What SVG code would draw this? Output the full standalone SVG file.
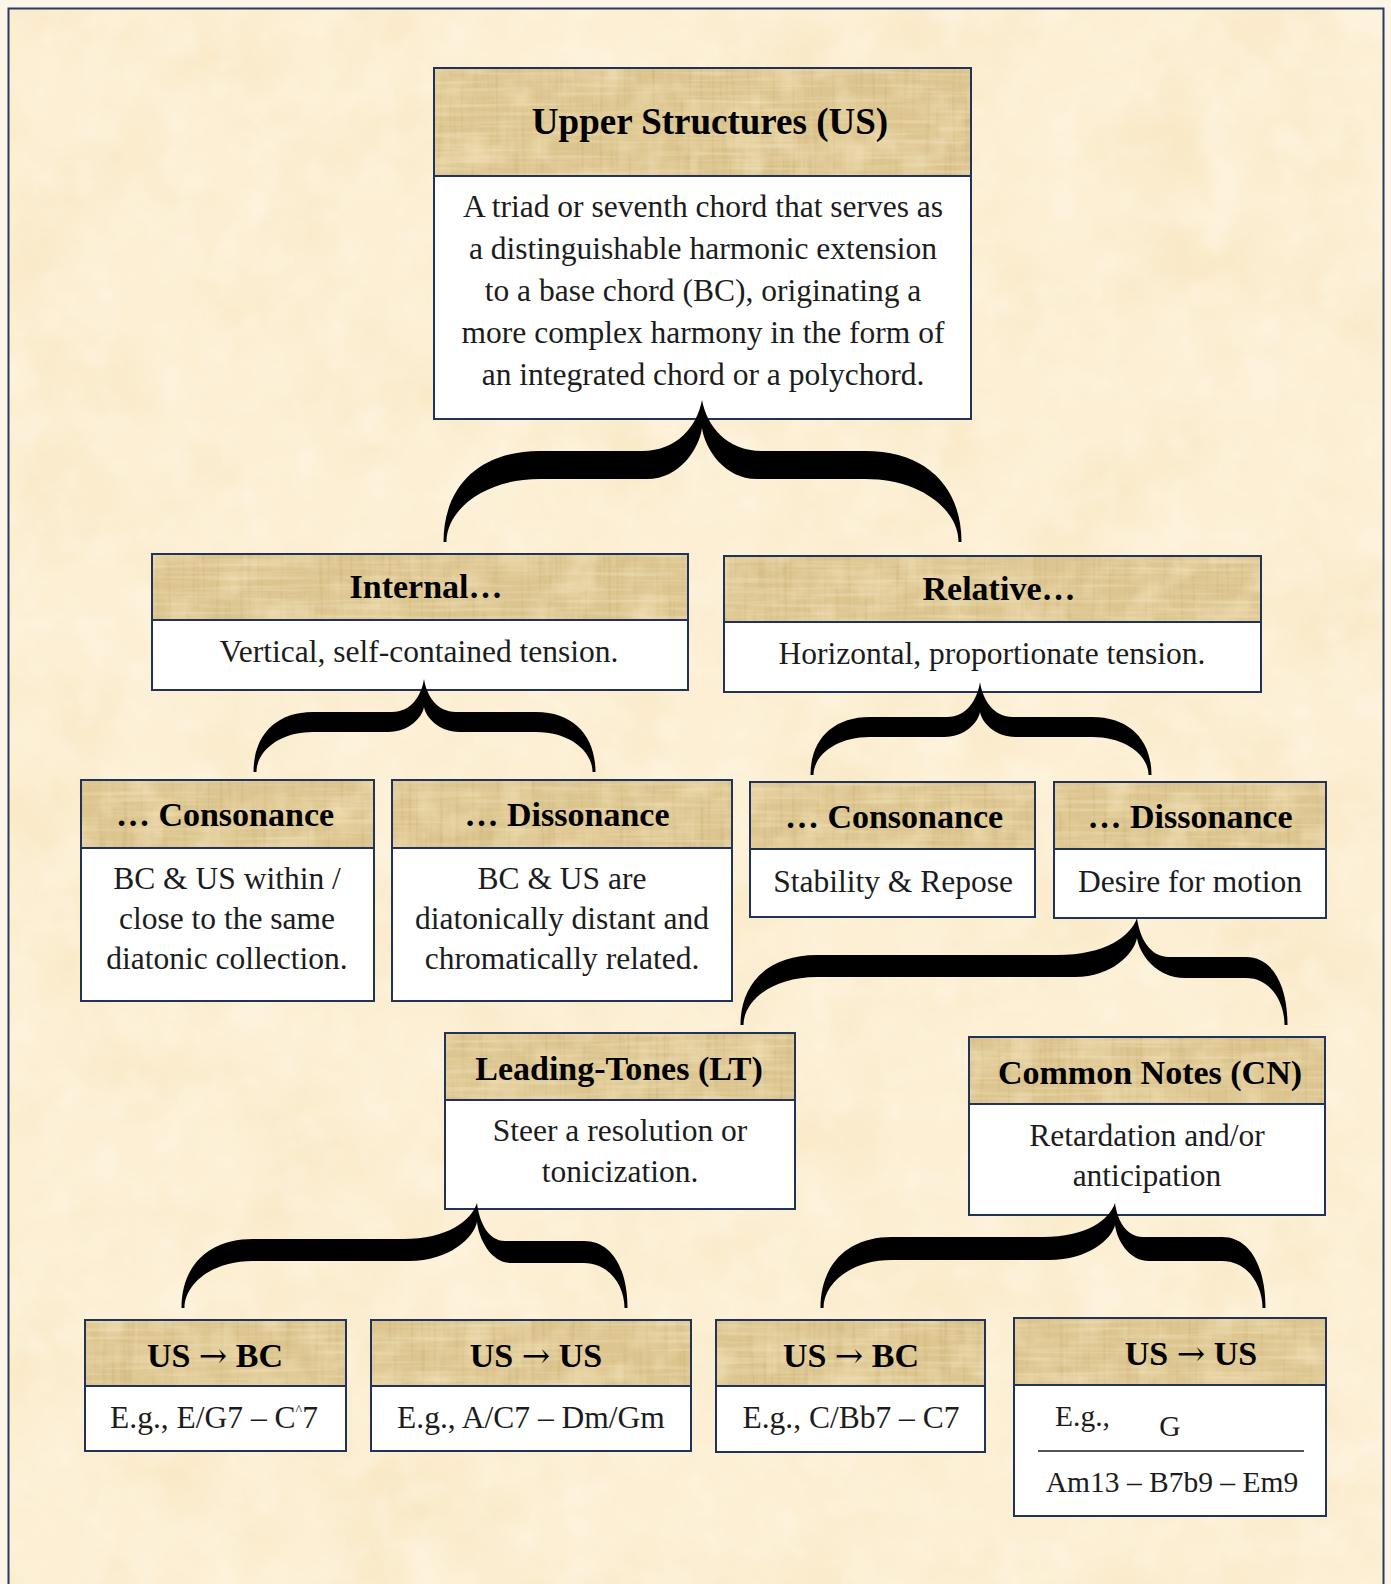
<svg xmlns="http://www.w3.org/2000/svg" width="1391" height="1584" viewBox="0 0 1391 1584">
  <defs>
    <style>
      .paper { fill: #fcefd4; filter: url(#parchment); }
      .outer { fill: none; stroke: #2a3a60; stroke-width: 2; }
      .body { fill: #ffffff; }
      .head { fill: #dcc58f; filter: url(#papyrus); }
      .frame { fill: none; stroke: #22335a; stroke-width: 2; }
      .rule { stroke: #22335a; stroke-width: 2; }
      .title { font-family: "Liberation Serif", "DejaVu Serif", serif; font-weight: bold; font-size: 34px; text-anchor: middle; fill: #000; }
      .big { font-size: 37px; }
      .arrow { font-family: "DejaVu Serif", serif; font-weight: normal; }
      .txt { font-family: "Liberation Serif", "DejaVu Serif", serif; font-size: 31.5px; text-anchor: middle; fill: #1c1c1c; }
      .small { font-size: 29.5px; }
      .left { text-anchor: start; }
      .brace { fill: #000; }
    </style>
    <!-- mottled parchment background -->
    <filter id="parchment" x="0" y="0" width="100%" height="100%" color-interpolation-filters="sRGB">
      <feFlood flood-color="#fcefd4" result="base"/>
      <feTurbulence type="fractalNoise" baseFrequency="0.009" numOctaves="4" seed="7" result="noise"/>
      <feColorMatrix in="noise" type="matrix" values="0 0 0 0 0.94  0 0 0 0 0.83  0 0 0 0 0.6  0.55 0 0 0 -0.24" result="spots"/>
      <feTurbulence type="fractalNoise" baseFrequency="0.025" numOctaves="3" seed="19" result="noise2"/>
      <feColorMatrix in="noise2" type="matrix" values="0 0 0 0 1  0 0 0 0 0.98  0 0 0 0 0.93  0.9 0 0 0 -0.4" result="glow"/>
      <feMerge><feMergeNode in="base"/><feMergeNode in="spots"/><feMergeNode in="glow"/></feMerge>
      <feComposite in2="SourceAlpha" operator="in"/>
    </filter>
    <!-- woven papyrus texture for the header bands -->
    <filter id="papyrus" x="0" y="0" width="100%" height="100%" color-interpolation-filters="sRGB">
      <feFlood flood-color="#dcc58f" result="base"/>
      <feTurbulence type="fractalNoise" baseFrequency="0.03" numOctaves="3" seed="4" result="blot"/>
      <feColorMatrix in="blot" type="matrix" values="0 0 0 0 0.97  0 0 0 0 0.91  0 0 0 0 0.76  1.2 0 0 0 -0.5" result="pale"/>
      <feTurbulence type="fractalNoise" baseFrequency="0.01 0.25" numOctaves="2" seed="11" result="hf"/>
      <feColorMatrix in="hf" type="matrix" values="0 0 0 0 0.98  0 0 0 0 0.93  0 0 0 0 0.8  0.9 0 0 0 -0.4" result="light"/>
      <feTurbulence type="fractalNoise" baseFrequency="0.25 0.01" numOctaves="2" seed="23" result="vf"/>
      <feColorMatrix in="vf" type="matrix" values="0 0 0 0 0.7  0 0 0 0 0.58  0 0 0 0 0.35  0.6 0 0 0 -0.3" result="dark"/>
      <feMerge><feMergeNode in="base"/><feMergeNode in="dark"/><feMergeNode in="pale"/><feMergeNode in="light"/></feMerge>
      <feComposite in2="SourceAlpha" operator="in"/>
    </filter>
  </defs>

  <!-- page -->
  <rect x="0" y="0" width="1391" height="1584" fill="#fdf6e8"/>
  <rect class="paper" x="9" y="9" width="1374" height="1580"/>
  <rect class="outer" x="8.5" y="8.5" width="1375" height="1600"/>

  <g id="nodes">
    <g id="node-upper-structures">
      <rect class="body" x="434" y="68" width="537" height="351"/>
      <rect class="head" x="435" y="69" width="535" height="107"/>
      <line class="rule" x1="434" y1="176" x2="971" y2="176"/>
      <rect class="frame" x="434" y="68" width="537" height="351"/>
      <text class="title big" x="710" y="134">Upper Structures (US)</text>
      <text class="txt" x="703" y="217">A triad or seventh chord that serves as</text>
      <text class="txt" x="703" y="259">a distinguishable harmonic extension</text>
      <text class="txt" x="703" y="301">to a base chord (BC), originating a</text>
      <text class="txt" x="703" y="343">more complex harmony in the form of</text>
      <text class="txt" x="703" y="385">an integrated chord or a polychord.</text>
    </g>

    <g id="node-internal">
      <rect class="body" x="152" y="554" width="536" height="136"/>
      <rect class="head" x="153" y="555" width="534" height="65"/>
      <line class="rule" x1="152" y1="620" x2="688" y2="620"/>
      <rect class="frame" x="152" y="554" width="536" height="136"/>
      <text class="title" x="426" y="598">Internal…</text>
      <text class="txt" x="419" y="662">Vertical, self-contained tension.</text>
    </g>

    <g id="node-relative">
      <rect class="body" x="724" y="556" width="537" height="136"/>
      <rect class="head" x="725" y="557" width="535" height="65"/>
      <line class="rule" x1="724" y1="622" x2="1261" y2="622"/>
      <rect class="frame" x="724" y="556" width="537" height="136"/>
      <text class="title" x="999" y="600">Relative…</text>
      <text class="txt" x="992" y="664">Horizontal, proportionate tension.</text>
    </g>

    <g id="node-internal-consonance">
      <rect class="body" x="81" y="780" width="293" height="221"/>
      <rect class="head" x="82" y="781" width="291" height="67"/>
      <line class="rule" x1="81" y1="848" x2="374" y2="848"/>
      <rect class="frame" x="81" y="780" width="293" height="221"/>
      <text class="title" x="225" y="826">… Consonance</text>
      <text class="txt" x="227" y="889">BC &amp; US within /</text>
      <text class="txt" x="227" y="929">close to the same</text>
      <text class="txt" x="227" y="969">diatonic collection.</text>
    </g>

    <g id="node-internal-dissonance">
      <rect class="body" x="392" y="780" width="340" height="221"/>
      <rect class="head" x="393" y="781" width="338" height="67"/>
      <line class="rule" x1="392" y1="848" x2="732" y2="848"/>
      <rect class="frame" x="392" y="780" width="340" height="221"/>
      <text class="title" x="567" y="826">… Dissonance</text>
      <text class="txt" x="562" y="889">BC &amp; US are</text>
      <text class="txt" x="562" y="929">diatonically distant and</text>
      <text class="txt" x="562" y="969">chromatically related.</text>
    </g>

    <g id="node-relative-consonance">
      <rect class="body" x="750" y="782" width="285" height="135"/>
      <rect class="head" x="751" y="783" width="283" height="66"/>
      <line class="rule" x1="750" y1="849" x2="1035" y2="849"/>
      <rect class="frame" x="750" y="782" width="285" height="135"/>
      <text class="title" x="894" y="828">… Consonance</text>
      <text class="txt" x="893" y="892">Stability &amp; Repose</text>
    </g>

    <g id="node-relative-dissonance">
      <rect class="body" x="1054" y="782" width="272" height="136"/>
      <rect class="head" x="1055" y="783" width="270" height="66"/>
      <line class="rule" x1="1054" y1="849" x2="1326" y2="849"/>
      <rect class="frame" x="1054" y="782" width="272" height="136"/>
      <text class="title" x="1190" y="828">… Dissonance</text>
      <text class="txt" x="1190" y="892">Desire for motion</text>
    </g>

    <g id="node-leading-tones">
      <rect class="body" x="445" y="1033" width="350" height="176"/>
      <rect class="head" x="446" y="1034" width="348" height="66"/>
      <line class="rule" x1="445" y1="1100" x2="795" y2="1100"/>
      <rect class="frame" x="445" y="1033" width="350" height="176"/>
      <text class="title" x="619" y="1080">Leading-Tones (LT)</text>
      <text class="txt" x="620" y="1141">Steer a resolution or</text>
      <text class="txt" x="620" y="1182">tonicization.</text>
    </g>

    <g id="node-common-notes">
      <rect class="body" x="969" y="1037" width="356" height="178"/>
      <rect class="head" x="970" y="1038" width="354" height="66"/>
      <line class="rule" x1="969" y1="1104" x2="1325" y2="1104"/>
      <rect class="frame" x="969" y="1037" width="356" height="178"/>
      <text class="title" x="1150" y="1084">Common Notes (CN)</text>
      <text class="txt" x="1147" y="1146">Retardation and/or</text>
      <text class="txt" x="1147" y="1186">anticipation</text>
    </g>

    <g id="node-lt-us-bc">
      <rect class="body" x="85" y="1320" width="261" height="131"/>
      <rect class="head" x="86" y="1321" width="259" height="65"/>
      <line class="rule" x1="85" y1="1386" x2="346" y2="1386"/>
      <rect class="frame" x="85" y="1320" width="261" height="131"/>
      <text class="title" x="215" y="1367">US <tspan class="arrow">→</tspan> BC</text>
      <text class="txt" x="214" y="1428">E.g., E/G7 – C<tspan font-size="14" dy="-13">^</tspan><tspan dy="13">7</tspan></text>
    </g>

    <g id="node-lt-us-us">
      <rect class="body" x="371" y="1320" width="320" height="131"/>
      <rect class="head" x="372" y="1321" width="318" height="65"/>
      <line class="rule" x1="371" y1="1386" x2="691" y2="1386"/>
      <rect class="frame" x="371" y="1320" width="320" height="131"/>
      <text class="title" x="536" y="1367">US <tspan class="arrow">→</tspan> US</text>
      <text class="txt" x="531" y="1428">E.g., A/C7 – Dm/Gm</text>
    </g>

    <g id="node-cn-us-bc">
      <rect class="body" x="716" y="1320" width="269" height="132"/>
      <rect class="head" x="717" y="1321" width="267" height="65"/>
      <line class="rule" x1="716" y1="1386" x2="985" y2="1386"/>
      <rect class="frame" x="716" y="1320" width="269" height="132"/>
      <text class="title" x="851" y="1367">US <tspan class="arrow">→</tspan> BC</text>
      <text class="txt" x="851" y="1428">E.g., C/Bb7 – C7</text>
    </g>

    <g id="node-cn-us-us">
      <rect class="body" x="1014" y="1318" width="312" height="198"/>
      <rect class="head" x="1015" y="1319" width="310" height="66"/>
      <line class="rule" x1="1014" y1="1385" x2="1326" y2="1385"/>
      <rect class="frame" x="1014" y="1318" width="312" height="198"/>
      <text class="title" x="1191" y="1365">US <tspan class="arrow">→</tspan> US</text>
      <text class="txt small left" x="1055" y="1426">E.g.,</text>
      <text class="txt small" x="1170" y="1436">G</text>
      <line x1="1038" y1="1451" x2="1304" y2="1451" stroke="#1c1c1c" stroke-width="1.5"/>
      <text class="txt small" x="1172" y="1492">Am13 – B7b9 – Em9</text>
    </g>
  </g>

  <!-- curly-brace connectors -->
  <g id="connectors">
    <path class="brace" d="M443.5,542 C443.5,487.4 478.3,451 540,451 L642,451 C678,451 697.2,425.5 702,400 C706.8,425.5 726,451 762,451 L865,451 C926.75,451 961.5,487.4 961.5,542 L958.5,542 C958.5,510.5 922,479 865,479 L757,479 C724,479 704.75,448.4 702,428 C699.25,448.4 680,479 647,479 L540,479 C483,479 446.5,510.5 446.5,542 Z"/>
    <path class="brace" d="M253.5,772 C253.5,736 275.3,712 313,712 L392,712 C411.2,712 421.4,695.5 424,679 C426.6,695.5 436.8,712 456,712 L536,712 C573.7,712 595.5,736 595.5,772 L592.5,772 C592.5,752 570.8,732 536,732 L460,732 C438.4,732 425.8,717 424,707 C422.2,717 409.6,732 388,732 L313,732 C278.2,732 256.5,752 256.5,772 Z"/>
    <path class="brace" d="M810.5,775 C810.5,740.2 832.3,717 870,717 L947,717 C966.8,717 977.4,699.5 980,682 C982.6,699.5 993.2,717 1013,717 L1092,717 C1129.7,717 1151.5,740.2 1151.5,775 L1148.5,775 C1148.5,756 1126.8,737 1092,737 L1016,737 C994.4,737 981.8,722 980,712 C978.2,722 965.6,737 944,737 L870,737 C835.2,737 813.5,756 813.5,775 Z"/>
    <path class="brace" d="M740.5,1025 C740.5,983 768.25,955 817,955 L1057,955 C1105,955 1130.6,936.5 1137,918 C1139.56,937.5 1149.8,957 1169,957 L1246,957 C1272,957 1287.5,984.2 1287.5,1025 L1284.5,1025 C1284.5,1001.5 1270,978 1246,978 L1185,978 C1156.2,978 1139.4,954 1137,938 C1133.9,953.6 1112.2,977 1075,977 L817,977 C772,977 743.5,1001 743.5,1025 Z"/>
    <path class="brace" d="M181.5,1308 C181.5,1266.6 207.5,1239 253,1239 L403,1239 C447.4,1239 471.1,1221 477,1203 C479.2,1222 488.2,1241 505,1241 L584,1241 C611.3,1241 627.5,1267.8 627.5,1308 L624.5,1308 C624.5,1285.5 609.2,1263 584,1263 L511,1263 C490.6,1263 478.7,1238.4 477,1222 C473.6,1237.6 449.8,1261 409,1261 L253,1261 C211,1261 184.5,1284.5 184.5,1308 Z"/>
    <path class="brace" d="M820.5,1308 C820.5,1265.4 846.5,1237 892,1237 L1043,1237 C1086.2,1237 1109.2,1220 1115,1203 C1117.2,1220 1126.2,1237 1143,1237 L1222,1237 C1249.3,1237 1265.5,1265.4 1265.5,1308 L1262.5,1308 C1262.5,1284.5 1247.2,1261 1222,1261 L1149,1261 C1128.6,1261 1116.7,1239.4 1115,1225 C1111.7,1239 1088.6,1260 1049,1260 L892,1260 C850,1260 823.5,1284 823.5,1308 Z"/>
  </g>
</svg>
